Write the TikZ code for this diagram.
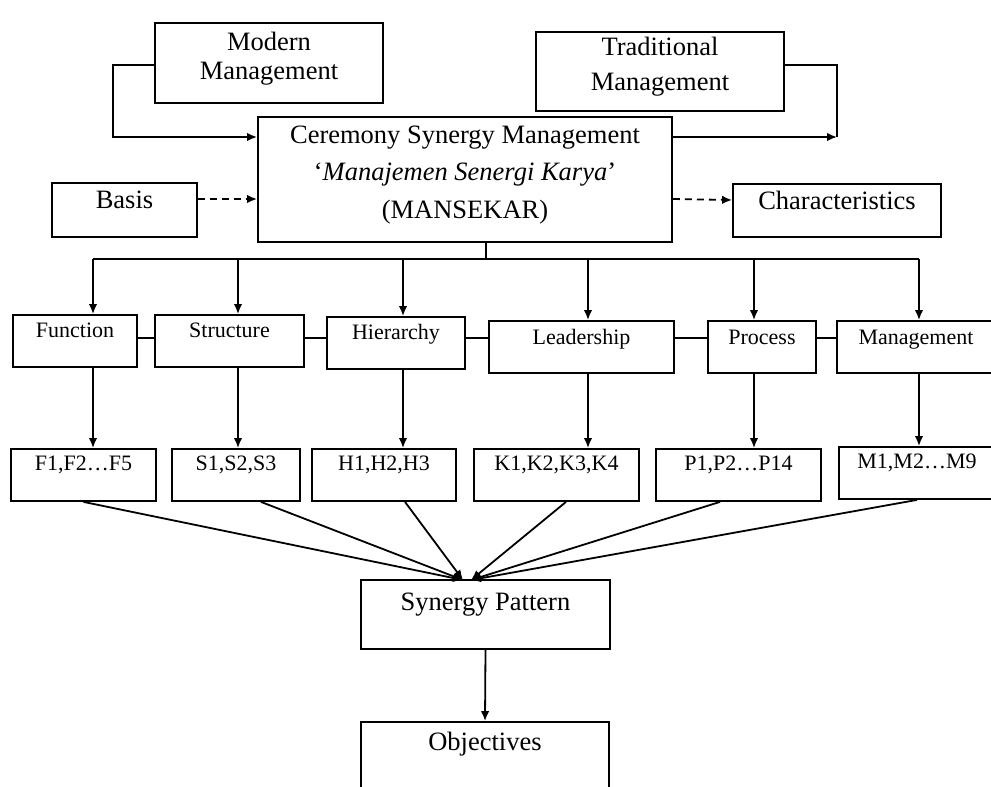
\documentclass[tikz,border=0pt]{standalone}
\usepackage{fontspec}
\setmainfont{Liberation Serif}
\usetikzlibrary{arrows.meta,positioning,calc}
\newcommand{\bigtxt}{\fontsize{26.5}{30}\selectfont}
\newcommand{\smalltxt}{\fontsize{22}{26}\selectfont}

\begin{document}
\begin{tikzpicture}[
  x=1pt,y=-1pt,
  box/.style={draw,line width=1.8pt,align=center,inner sep=0pt,font=\bigtxt},
  rowbox/.style={box,font=\smalltxt,minimum height=52pt,text height=16pt},
  arr/.style={-{Latex[length=10pt,width=8.5pt]},line width=1.8pt},
  link/.style={line width=1.8pt},
  dashy/.style={arr,dash pattern=on 7pt off 5pt}
]
\useasboundingbox (0,0) rectangle (991,787);
\clip (0,0) rectangle (991,787);

% top part
\node[box,minimum width=228pt,minimum height=80pt,text depth=14pt,font=\fontsize{26.5}{29}\selectfont] (modern) at (269,63) {Modern\\Management};
\node[box,minimum width=248pt,minimum height=79pt,text depth=14.6pt,font=\fontsize{26.5}{35}\selectfont] (trad) at (660,71.5) {Traditional\\Management};
\node[box,minimum width=414pt,minimum height=125pt,text depth=14.6pt,font=\fontsize{26.5}{37.5}\selectfont] (csm) at (465,179.5)
  {Ceremony Synergy Management\\`\textit{Manajemen Senergi Karya}'\\(MANSEKAR)};
\node[box,minimum width=145pt,minimum height=54pt,text height=19pt,text depth=22pt] (basis) at (124.5,210) {Basis};
\node[box,minimum width=208pt,minimum height=53pt,text height=19pt,text depth=22pt] (charac) at (837,210.5) {Characteristics};

% aspects
\node[rowbox,minimum width=124pt,text depth=23.5pt] (fun) at (75,341) {Function};
\node[rowbox,minimum width=149pt,text depth=23.5pt] (str) at (229.5,341) {Structure};
\node[rowbox,minimum width=138pt,text depth=23.5pt] (hie) at (396,343) {Hierarchy};
\node[rowbox,minimum width=185pt,text depth=21.5pt] (lea) at (581.5,347) {Leadership};
\node[rowbox,minimum width=108pt,text depth=21.5pt] (pro) at (762,347) {Process};
\node[rowbox,minimum width=158pt,text depth=21.5pt] (man) at (916,347) {Management};

% indicators
\node[rowbox,minimum width=145pt,text depth=25.5pt] (fcode) at (83.5,475) {F1,F2\ldots F5};
\node[rowbox,minimum width=128pt,text depth=25.5pt] (scode) at (236,475) {S1,S2,S3};
\node[rowbox,minimum width=144pt,text depth=25.5pt] (hcode) at (384,475) {H1,H2,H3};
\node[rowbox,minimum width=165pt,text depth=25.5pt] (kcode) at (556.5,475) {K1,K2,K3,K4};
\node[rowbox,minimum width=165pt,text depth=25.5pt] (pcode) at (738.5,475) {P1,P2\ldots P14};
\node[rowbox,minimum width=156pt,text depth=25.5pt] (mcode) at (917,473) {M1,M2\ldots M9};

% bottom
\node[box,minimum width=249pt,minimum height=69pt,text height=19pt,text depth=27pt] (syn) at (485.5,614.5) {Synergy Pattern};
\node[box,minimum width=248pt,minimum height=69pt,text height=19pt,text depth=31pt] (obj) at (485,756.5) {Objectives};

% connectors
\coordinate (tc) at (837,137);
\coordinate (busc) at (486,259);
\coordinate (lk) at (0,338);
\coordinate (inl) at (463,580);
\coordinate (inr) at (471,580);
\coordinate (d1) at (93,259);
\coordinate (d2) at (238,259);
\coordinate (d3) at (403,259);
\coordinate (d4) at (588,259);
\coordinate (d5) at (754,259);
\coordinate (d6) at (919,259);

\draw[arr] ([yshift=-2pt]modern.west) -- ++(-41,0) |- ([yshift=42.5pt]csm.west);
\draw[link] ([yshift=6.5pt]trad.east) -| (tc);
\draw[arr] ([yshift=42.5pt]csm.east) -- (tc);
\draw[dashy] ([yshift=11pt]basis.east) -- ([yshift=-19.5pt]csm.west);
\draw[dashy] ([yshift=-19.5pt]csm.east) -- ([yshift=10.5pt]charac.west);

\draw[link] (csm.south -| busc) -- (busc);
\draw[link] (d1) -- (d6);
\foreach \d/\r/\c in {d1/fun/fcode,d2/str/scode,d3/hie/hcode,d4/lea/kcode,d5/pro/pcode,d6/man/mcode} {
  \draw[arr] (\d) -- (\d |- \r.north);
  \draw[arr] (\d |- \r.south) -- (\d |- \c.north);
}
\foreach \a/\b in {fun/str,str/hie,hie/lea,lea/pro,pro/man}
  \draw[link] (\a.east |- lk) -- (\b.west |- lk);

\draw[arr] (fcode.south) -- (inl);
\draw[arr] ([xshift=25pt]scode.south) -- (inl);
\draw[arr] ([xshift=21pt]hcode.south) -- (inl);
\draw[arr] ([xshift=9.5pt]kcode.south) -- (inr);
\draw[arr] ([xshift=-18.5pt]pcode.south) -- (inr);
\draw[arr] (mcode.south) -- (inr);
\draw[arr] (syn.south) -- (obj.north);
\end{tikzpicture}
\end{document}
